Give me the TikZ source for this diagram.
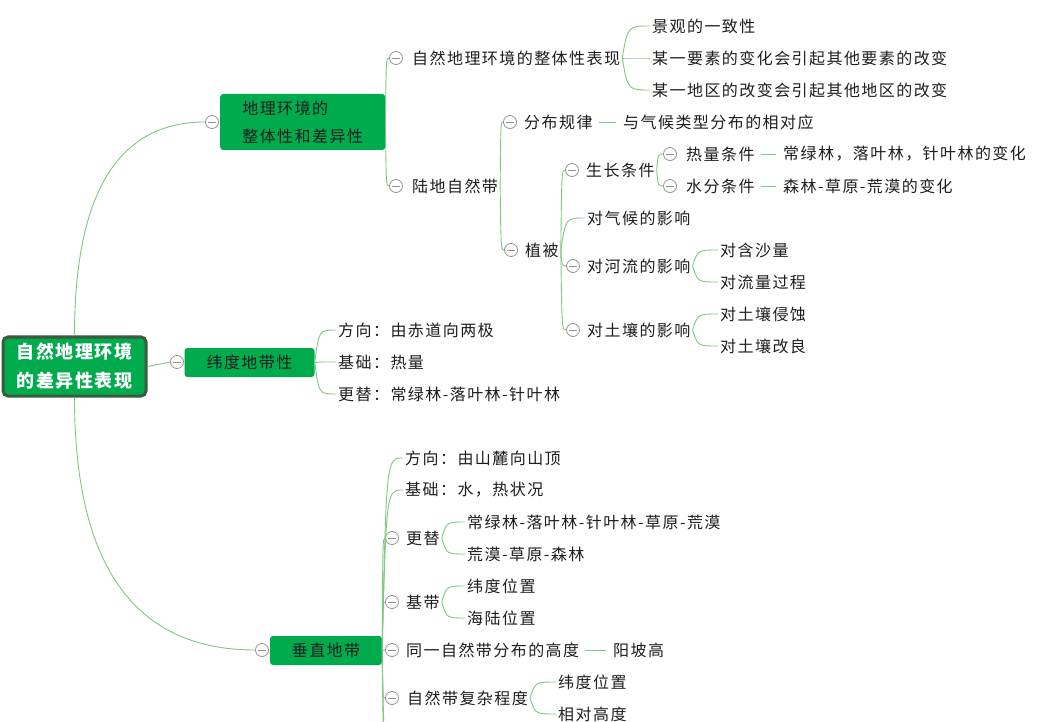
\documentclass[tikz,border=0pt]{standalone}
\usepackage{fontspec}
\setmainfont{Noto Sans CJK SC}[LetterSpace=9]
\usetikzlibrary{calc}
\definecolor{boxgreen}{RGB}{0,171,78}
\definecolor{rootborder}{RGB}{58,92,60}
\definecolor{lnk}{RGB}{128,200,128}
\definecolor{txtc}{RGB}{30,30,30}
\tikzset{
  conn/.style={draw=lnk, line width=0.9pt},
  brk/.style={to path={.. controls ($(\tikztostart |- \tikztotarget)!#1!(\tikztotarget)$) .. (\tikztotarget)}},
  brk/.default=0.2,
  arc/.style={to path={let \p1=(\tikztostart), \p2=(\tikztotarget) in
     .. controls (\x1, {\y1+0.667*(\y2-\y1)}) and ({\x2-0.667*(\x2-\x1)}, \y2) .. (\tikztotarget)}},
  col/.style={circle, draw=gray!85, fill=white, line width=0.8pt, minimum size=13pt, inner sep=0pt,
    path picture={\draw[gray!85, line width=0.8pt] ([xshift=-4pt]path picture bounding box.center) -- ([xshift=4pt]path picture bounding box.center);}},
  t/.style={anchor=west, inner sep=2pt, text=txtc},
  box/.style={fill=boxgreen, rounded corners=3pt, text=txtc, inner sep=2pt},
  dashlink/.style={conn, shorten <=4pt, shorten >=5pt}
}
\begin{document}
\begin{tikzpicture}[x=1pt, y=-1pt, font=\fontsize{16}{20}\selectfont]
\clip (0,0) rectangle (1045,722);
\fill[white] (0,0) rectangle (1045,722);

% root
\node[fill=boxgreen, draw=rootborder, line width=3pt, rounded corners=5pt, minimum width=143pt, minimum height=59pt,
  text=white, align=center, font=\fontsize{18}{29}\selectfont\bfseries] (R) at (74.5,366.5) {自然地理环境\\的差异性表现};

% level 1
\node[col] (KA1) at (212,122) {};
\node[box, anchor=west, minimum height=56pt, minimum width=165pt, align=left, inner xsep=20pt,
  font=\fontsize{16}{28}\selectfont] (B1) at (220,122) {地理环境的\\整体性和差异性};
\node[col] (KA2) at (177,362) {};
\node[box, minimum width=130pt, minimum height=29pt] (B2) at (249.5,362.5) {纬度地带性};
\node[col] (KA3) at (262,650) {};
\node[box, minimum width=112pt, minimum height=29pt] (B3) at (326,650.5) {垂直地带};

\draw[conn] (R.north) to[arc] (KA1.west);
\draw[conn] (R.east) -- (KA2.west);
\draw[conn] (R.south) to[arc] (KA3.west);

% ---- branch 1
\node[col] (K11) at (396,58) {};
\node[t] (T11) at (410,58) {自然地理环境的整体性表现};
\node[col] (K12) at (396,186) {};
\node[t] (T12) at (410,186) {陆地自然带};
\draw[conn] (B1.east) to[brk] (K11.west);
\draw[conn] (B1.east) to[brk] (K12.west);

\node[t] (L1) at (650,26) {景观的一致性};
\node[t] (L2) at (650,58) {某一要素的变化会引起其他要素的改变};
\node[t] (L3) at (650,90) {某一地区的改变会引起其他地区的改变};
\draw[conn] (T11.east) to[brk] (L1.west);
\draw[conn] (T11.east) to[brk] (L2.west);
\draw[conn] (T11.east) to[brk] (L3.west);

\node[col] (K121) at (510,122) {};
\node[t] (T121) at (522,122) {分布规律};
\node[t] (T1211) at (621,122) {与气候类型分布的相对应};
\node[col] (K122) at (511,250) {};
\node[t] (T122) at (523,250) {植被};
\draw[conn] (T12.east) to[brk] (K121.west);
\draw[conn] (T12.east) to[brk] (K122.west);
\draw[dashlink] (T121.east) -- (T1211.west);

\node[col] (K1221) at (572,170) {};
\node[t] (T1221) at (584,170) {生长条件};
\node[t] (T1222) at (585,218) {对气候的影响};
\node[col] (K1223) at (573,266) {};
\node[t] (T1223) at (585,266) {对河流的影响};
\node[col] (K1224) at (573,330) {};
\node[t] (T1224) at (585,330) {对土壤的影响};
\draw[conn] (T122.east) to[brk] (K1221.west);
\draw[conn] (T122.east) to[brk] (T1222.west);
\draw[conn] (T122.east) to[brk] (K1223.west);
\draw[conn] (T122.east) to[brk] (K1224.west);

\node[col] (KH) at (670,154) {};
\node[t] (TH) at (684,154) {热量条件};
\node[t] (TH1) at (781,154) {常绿林，落叶林，针叶林的变化};
\node[col] (KW) at (670,186) {};
\node[t] (TW) at (684,186) {水分条件};
\node[t] (TW1) at (781,186) {森林-草原-荒漠的变化};
\draw[conn] (T1221.east) to[brk] (KH.west);
\draw[conn] (T1221.east) to[brk] (KW.west);
\draw[dashlink] (TH.east) -- (TH1.west);
\draw[dashlink] (TW.east) -- (TW1.west);

\node[t] (R1) at (718,250) {对含沙量};
\node[t] (R2) at (718,282) {对流量过程};
\draw[conn] (T1223.east) to[brk] (R1.west);
\draw[conn] (T1223.east) to[brk] (R2.west);
\node[t] (S1) at (718,314) {对土壤侵蚀};
\node[t] (S2) at (718,346) {对土壤改良};
\draw[conn] (T1224.east) to[brk] (S1.west);
\draw[conn] (T1224.east) to[brk] (S2.west);

% ---- branch 2
\node[t] (W1) at (336,330) {方向：由赤道向两极};
\node[t] (W2) at (336,362) {基础：热量};
\node[t] (W3) at (336,394) {更替：常绿林-落叶林-针叶林};
\draw[conn] (B2.east) to[brk] (W1.west);
\draw[conn] (B2.east) to[brk] (W2.west);
\draw[conn] (B2.east) to[brk] (W3.west);

% ---- branch 3
\node[t] (V1) at (403,458) {方向：由山麓向山顶};
\node[t] (V2) at (403,490) {基础：水，热状况};
\node[col] (KV3) at (392,538) {};
\node[t] (V3) at (404,538) {更替};
\node[col] (KV4) at (392,602) {};
\node[t] (V4) at (404,602) {基带};
\node[col] (KV5) at (392,650) {};
\node[t] (V5) at (404,650) {同一自然带分布的高度};
\node[t] (V51) at (611,650) {阳坡高};
\node[col] (KV6) at (392,698) {};
\node[t] (V6) at (405,698) {自然带复杂程度};
\coordinate (off1) at (391,750);
\coordinate (off2) at (391,800);
\draw[conn] (B3.east) to[brk] (V1.west);
\draw[conn] (B3.east) to[brk] (V2.west);
\draw[conn] (B3.east) to[brk] (KV3.west);
\draw[conn] (B3.east) to[brk] (KV4.west);
\draw[conn] (B3.east) to[brk] (KV5.west);
\draw[conn] (B3.east) to[brk] (KV6.west);
\draw[conn] (B3.east) to[brk] (off1);
\draw[conn] (B3.east) to[brk] (off2);
\draw[dashlink] (V5.east) -- (V51.west);

\node[t] (V31) at (465,522) {常绿林-落叶林-针叶林-草原-荒漠};
\node[t] (V32) at (465,554) {荒漠-草原-森林};
\draw[conn] (V3.east) to[brk] (V31.west);
\draw[conn] (V3.east) to[brk] (V32.west);
\node[t] (V41) at (465,586) {纬度位置};
\node[t] (V42) at (465,618) {海陆位置};
\draw[conn] (V4.east) to[brk] (V41.west);
\draw[conn] (V4.east) to[brk] (V42.west);
\node[t] (V61) at (556,682) {纬度位置};
\node[t] (V62) at (556,714) {相对高度};
\draw[conn] (V6.east) to[brk] (V61.west);
\draw[conn] (V6.east) to[brk] (V62.west);
\end{tikzpicture}
\end{document}
